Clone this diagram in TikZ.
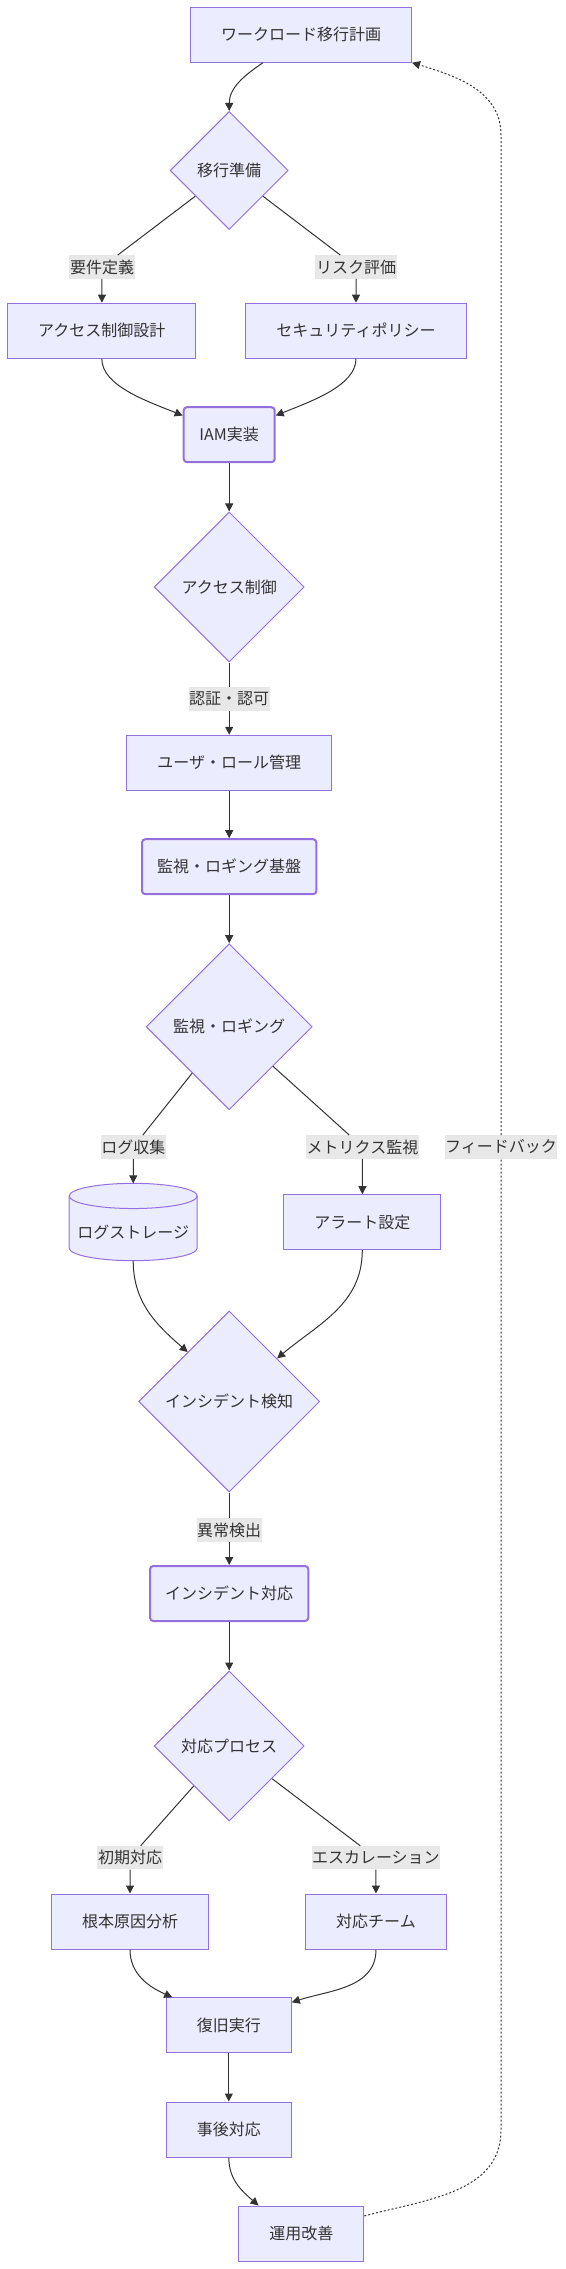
\documentclass[tikz,border=0pt]{standalone}
\usepackage{fontspec}
\setmainfont{Noto Sans CJK JP}
\usepackage{tikz}
\usetikzlibrary{arrows.meta,positioning,shapes.geometric,backgrounds}

\definecolor{nodefill}{HTML}{ECECFF}
\definecolor{nodeline}{HTML}{9370DB}
\definecolor{linkgray}{HTML}{333333}
\definecolor{labelgray}{HTML}{E8E8E8}

\begin{document}
\begin{tikzpicture}[
    x=0.75pt, y=-0.75pt,
    font=\fontsize{12pt}{14pt}\selectfont, text=linkgray,
    nodecol/.style={draw=nodeline,fill=nodefill,line width=0.75pt},
    box/.style={nodecol,rectangle,minimum height=41.25pt,
                inner xsep=22.9pt,inner ysep=0pt},
    rbox/.style={box,rounded corners=2.5pt,line width=1.5pt,inner xsep=11.4pt},
    decision/.style={nodecol,diamond,aspect=1,inner sep=0pt,minimum size=#1},
    store/.style={rectangle,minimum width=96pt,minimum height=58pt,inner sep=0pt,
                  outer sep=0pt,text height=25pt,text depth=0.9pt},
    elabel/.style={fill=labelgray,inner xsep=0.4pt,inner ysep=0pt,minimum height=17.5pt},
    link/.style={draw=linkgray,line width=0.75pt,-{Triangle[length=6pt,width=6pt]}},
    fback/.style={link,dash pattern=on 1.5pt off 1.5pt}
  ]
  \useasboundingbox (0,0) rectangle (565,2269);

  \node[box] (plan) at (301,34.7) {ワークロード移行計画};
  \node[decision=88.5pt] (prep) at (229.2,170.5) {移行準備};
  \node[elabel] (req)  at (102,267) {要件定義};
  \node[elabel] (risk) at (356,267) {リスク評価};
  \node[box] (acd) at (101.8,330.7) {アクセス制御設計};
  \node[box] (sec) at (356,330.7)   {セキュリティポリシー};
  \node[rbox,minimum width=68.3pt] (iam) at (229.2,434.7) {IAM実装};
  \node[decision=112.5pt] (ac) at (229.2,587) {アクセス制御};
  \node[elabel] (authz) at (229.2,699) {認証・認可};
  \node[box] (urm) at (229.2,762.8) {ユーザ・ロール管理};
  \node[rbox] (mlb) at (229.2,866.7) {監視・ロギング基盤};
  \node[decision=124.5pt] (ml) at (229.2,1026.7) {監視・ロギング};
  \node[elabel] (logc) at (133.3,1147) {ログ収集};
  \node[elabel] (metr) at (362.5,1147) {メトリクス監視};
  \node[elabel] (fb)   at (501,1147)   {フィードバック};
  \node[store] (logs) at (133.2,1222) {ログストレージ};
  \node[box] (alert) at (362.3,1222.2) {アラート設定};
  \node[decision=135.75pt] (inc) at (229.2,1401.5) {インシデント検知};
  \node[elabel] (anom) at (229.2,1530) {異常検出};
  \node[rbox] (ir) at (229.2,1593.5) {インシデント対応};
  \node[decision=112.5pt] (rp) at (229.2,1746) {対応プロセス};
  \node[elabel] (init) at (130,1857.7)   {初期対応};
  \node[elabel] (esc)  at (375.9,1857.7) {エスカレーション};
  \node[box] (rca)  at (130,1921.5) {根本原因分析};
  \node[box] (team) at (376,1921.5) {対応チーム};
  \node[box] (rec) at (228.8,2025.3) {復旧実行};
  \node[box] (aft) at (228.8,2129.5) {事後対応};
  \node[box] (imp) at (301.3,2233.5) {運用改善};
  \coordinate (fblow)  at (501,2130);
  \coordinate (fbhigh) at (501,135);

  % database body
  \begin{scope}[on background layer]
    \draw[nodecol] ([yshift=-9.45pt]logs.north west) -- ([yshift=9.45pt]logs.south west)
      arc[start angle=180,end angle=360,x radius=48pt,y radius=9.45pt]
      -- ([yshift=-9.45pt]logs.north east)
      arc[start angle=0,end angle=180,x radius=48pt,y radius=9.45pt] -- cycle;
    \draw[nodecol,fill=none] ([yshift=-9.45pt]logs.north east)
      arc[start angle=0,end angle=-180,x radius=48pt,y radius=9.45pt];
  \end{scope}

  \draw[link] ([xshift=-28.5pt]plan.south) to[out=-146,in=90] (prep.north);
  \foreach \a/\b in {iam/ac,urm/mlb,mlb/ml,ir/rp,rec/aft}
    \draw[link] (\a) -- (\b);
  \foreach \a/\l/\b in {prep/req/acd,prep/risk/sec,ac/authz/urm,ml/logc/logs,
                        ml/metr/alert,inc/anom/ir,rp/init/rca,rp/esc/team}
    \draw[link] (\a) -- (\l) -- (\b);
  \draw[link] (acd.south) to[out=-90,in=158,out looseness=0.7] ([yshift=-7pt]iam.north west);
  \draw[link] (sec.south) to[out=-90,in=22,out looseness=0.7] ([yshift=-7pt]iam.north east);
  \draw[link] (logs.south) to[out=-90,in=139] (inc.130);
  \draw[link] (alert.south) to[out=-90,in=40] (inc.42);
  \draw[link] (rca.south) to[out=-90,in=156] ([xshift=4.9pt]rec.north west);
  \draw[link] (team.south) to[out=-90,in=18] ([yshift=-3.75pt]rec.north east);
  \draw[link] (aft.south) to[out=-90,in=139] ([xshift=15.2pt]imp.north west);
  % feedback loop
  \draw[fback] ([yshift=-7.8pt]imp.north east) to[out=15,in=-90] (fblow)
    -- (fb) -- (fbhigh) to[out=90,in=-17] (plan.south east);
\end{tikzpicture}
\end{document}
